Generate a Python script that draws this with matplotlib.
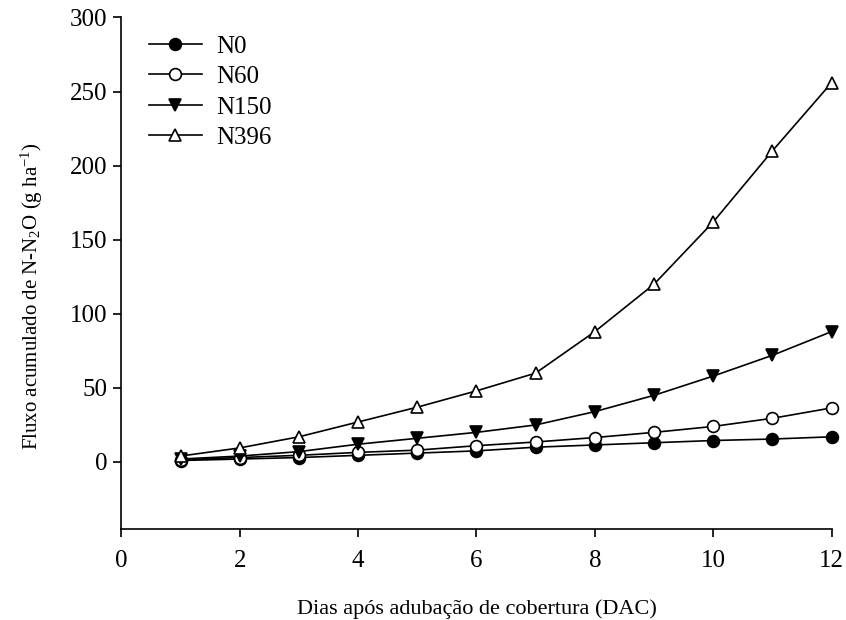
import matplotlib
matplotlib.use('Agg')
import matplotlib.pyplot as plt

plt.rcParams['font.family'] = ['Liberation Serif', 'DejaVu Serif']
plt.rcParams['mathtext.fontset'] = 'custom'
plt.rcParams['mathtext.rm'] = 'Liberation Serif'
plt.rcParams['mathtext.it'] = 'Liberation Serif:italic'

# dados
dias = [1, 2, 3, 4, 5, 6, 7, 8, 9, 10, 11, 12]
n0 = [1, 2, 3, 4.5, 6, 7.5, 10, 11.5, 13, 14.5, 15.5, 17]
n60 = [1.5, 3, 4.5, 6.5, 8, 11, 13.5, 16.5, 20, 24, 29.5, 36.5]
n150 = [2, 4, 7, 12, 16, 20, 25, 34, 45, 58, 72, 88]
n396 = [4, 9.5, 17, 27, 37, 48, 60, 88, 120, 162, 210, 256]

fig = plt.figure(figsize=(8.46, 6.2), dpi=100)
ax = fig.add_axes([0.1434, 0.1473, 0.8396, 0.8245])

kw = dict(color='black', linewidth=1.2, markersize=8.5, markeredgewidth=1.2, clip_on=False)
ax.plot(dias, n0, marker='o', markerfacecolor='black', label='N0', **kw)
ax.plot(dias, n60, marker='o', markerfacecolor='white', label='N60', **kw)
ax.plot(dias, n150, marker='v', markerfacecolor='black', label='N150', **kw)
ax.plot(dias, n396, marker='^', markerfacecolor='white', label='N396', **kw)

ax.set_xlim(0, 12)
ax.set_ylim(-45, 300)
ax.set_xticks(range(0, 13, 2))
ax.set_yticks(range(0, 301, 50))
ax.tick_params(labelsize=18, direction='out', length=6, width=1.2)
ax.tick_params(axis='x', pad=9)
ax.tick_params(axis='y', pad=4)
for s in ['left', 'bottom']:
    ax.spines[s].set_linewidth(1.2)

ax.spines['top'].set_visible(False)
ax.spines['right'].set_visible(False)

ax.set_xlabel('Dias após adubação de cobertura (DAC)', fontsize=16, labelpad=20)
ax.set_ylabel('Fluxo acumulado de N-N$_2$O (g ha$^{-1}$)', fontsize=15)
ax.yaxis.set_label_coords(-0.107, 0.455)

ax.legend(loc='upper left', frameon=False, fontsize=18, handlelength=2.1,
          handletextpad=0.6, labelspacing=0.32,
          bbox_to_anchor=(0.018, 0.995), borderaxespad=0.2)

plt.savefig('out.png', dpi=100)
